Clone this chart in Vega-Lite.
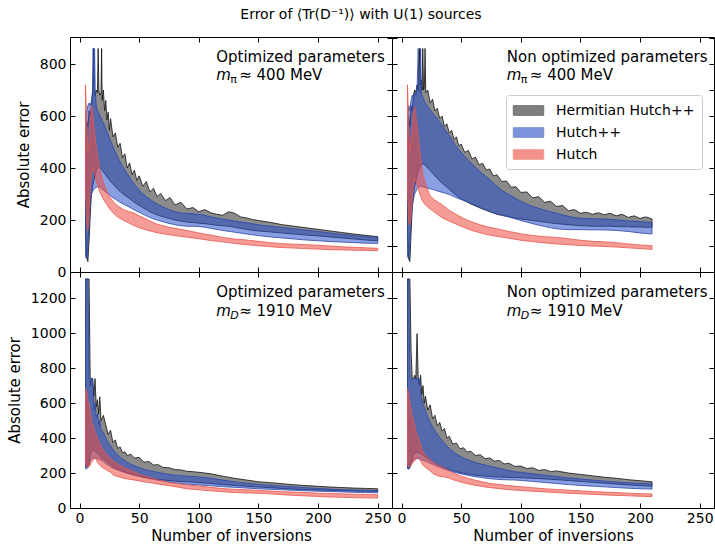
{
"$schema": "https://vega.github.io/schema/vega-lite/v6.json",
"background": "white",
"padding": {"left": 6, "top": 8, "right": 0, "bottom": 1},
"title": {"text": "Error of ⟨Tr(D⁻¹)⟩ with U(1) sources", "anchor": "middle", "fontSize": 14, "fontWeight": "normal", "font": "DejaVu Sans", "color": "black", "offset": 14},
"datasets": {
"TL_H": [{"x":5,"lo":150,"hi":450},{"x":6,"lo":60,"hi":580},{"x":7,"lo":40,"hi":560},{"x":8,"lo":120,"hi":620},{"x":9,"lo":220,"hi":600},{"x":10,"lo":300,"hi":640},{"x":11,"lo":330,"hi":690},{"x":11.6,"lo":345,"hi":860},{"x":12.2,"lo":355,"hi":700},{"x":13,"lo":370,"hi":680},{"x":14,"lo":390,"hi":700},{"x":15,"lo":400,"hi":690},{"x":15.6,"lo":402,"hi":860},{"x":16.2,"lo":405,"hi":700},{"x":17,"lo":400,"hi":680},{"x":18,"lo":395,"hi":690},{"x":18.5,"lo":393,"hi":860},{"x":19,"lo":390,"hi":660},{"x":20,"lo":385,"hi":700},{"x":21,"lo":378,"hi":620},{"x":22,"lo":372,"hi":660},{"x":23,"lo":366,"hi":585},{"x":24,"lo":360,"hi":615},{"x":25,"lo":354,"hi":545},{"x":26,"lo":348,"hi":590},{"x":28,"lo":338,"hi":520},{"x":30,"lo":328,"hi":535},{"x":32,"lo":318,"hi":480},{"x":34,"lo":310,"hi":495},{"x":36,"lo":302,"hi":440},{"x":38,"lo":295,"hi":455},{"x":40,"lo":288,"hi":400},{"x":42,"lo":282,"hi":420},{"x":44,"lo":275,"hi":375},{"x":46,"lo":268,"hi":392},{"x":48,"lo":262,"hi":352},{"x":50,"lo":256,"hi":370},{"x":53,"lo":248,"hi":330},{"x":56,"lo":240,"hi":348},{"x":59,"lo":232,"hi":308},{"x":62,"lo":226,"hi":322},{"x":65,"lo":220,"hi":290},{"x":68,"lo":215,"hi":302},{"x":72,"lo":210,"hi":275},{"x":76,"lo":205,"hi":286},{"x":80,"lo":200,"hi":258},{"x":85,"lo":196,"hi":268},{"x":90,"lo":192,"hi":242},{"x":95,"lo":190,"hi":248},{"x":100,"lo":188,"hi":232},{"x":105,"lo":186,"hi":240},{"x":110,"lo":183,"hi":228},{"x":115,"lo":180,"hi":222},{"x":120,"lo":178,"hi":218},{"x":125,"lo":176,"hi":232},{"x":130,"lo":172,"hi":226},{"x":135,"lo":168,"hi":212},{"x":140,"lo":164,"hi":208},{"x":145,"lo":160,"hi":202},{"x":150,"lo":158,"hi":198},{"x":160,"lo":154,"hi":191},{"x":170,"lo":150,"hi":182},{"x":180,"lo":146,"hi":176},{"x":190,"lo":142,"hi":170},{"x":200,"lo":139,"hi":164},{"x":210,"lo":135,"hi":158},{"x":220,"lo":131,"hi":152},{"x":230,"lo":127,"hi":146},{"x":240,"lo":123,"hi":141},{"x":250,"lo":120,"hi":136}],
"TL_P": [{"x":5,"lo":60,"hi":600},{"x":6,"lo":50,"hi":620},{"x":7,"lo":100,"hi":640},{"x":8,"lo":200,"hi":650},{"x":9,"lo":280,"hi":640},{"x":10,"lo":300,"hi":660},{"x":11,"lo":310,"hi":700},{"x":11.5,"lo":314,"hi":860},{"x":12,"lo":318,"hi":720},{"x":12.6,"lo":320,"hi":860},{"x":13.2,"lo":322,"hi":690},{"x":14,"lo":326,"hi":640},{"x":15,"lo":328,"hi":620},{"x":16,"lo":328,"hi":615},{"x":17,"lo":326,"hi":600},{"x":18,"lo":322,"hi":595},{"x":19,"lo":318,"hi":580},{"x":20,"lo":314,"hi":575},{"x":22,"lo":308,"hi":550},{"x":24,"lo":300,"hi":528},{"x":26,"lo":293,"hi":505},{"x":28,"lo":286,"hi":482},{"x":30,"lo":280,"hi":462},{"x":32,"lo":274,"hi":442},{"x":34,"lo":268,"hi":424},{"x":36,"lo":263,"hi":407},{"x":38,"lo":258,"hi":392},{"x":40,"lo":254,"hi":378},{"x":44,"lo":244,"hi":350},{"x":48,"lo":234,"hi":326},{"x":52,"lo":225,"hi":306},{"x":56,"lo":216,"hi":290},{"x":60,"lo":208,"hi":276},{"x":65,"lo":200,"hi":262},{"x":70,"lo":193,"hi":250},{"x":75,"lo":187,"hi":240},{"x":80,"lo":182,"hi":232},{"x":85,"lo":178,"hi":226},{"x":90,"lo":176,"hi":226},{"x":95,"lo":176,"hi":224},{"x":100,"lo":175,"hi":222},{"x":105,"lo":172,"hi":218},{"x":110,"lo":168,"hi":212},{"x":120,"lo":160,"hi":204},{"x":130,"lo":153,"hi":196},{"x":140,"lo":146,"hi":189},{"x":150,"lo":140,"hi":182},{"x":160,"lo":135,"hi":176},{"x":170,"lo":131,"hi":171},{"x":180,"lo":127,"hi":166},{"x":190,"lo":123,"hi":161},{"x":200,"lo":120,"hi":156},{"x":210,"lo":117,"hi":150},{"x":220,"lo":115,"hi":145},{"x":230,"lo":113,"hi":140},{"x":240,"lo":111,"hi":136},{"x":250,"lo":110,"hi":133}],
"TL_S": [{"x":5,"lo":300,"hi":720},{"x":5.5,"lo":250,"hi":650},{"x":6,"lo":200,"hi":560},{"x":7,"lo":160,"hi":470},{"x":8,"lo":240,"hi":500},{"x":9,"lo":320,"hi":580},{"x":10,"lo":380,"hi":640},{"x":11,"lo":400,"hi":610},{"x":12,"lo":390,"hi":560},{"x":13,"lo":370,"hi":520},{"x":14,"lo":350,"hi":480},{"x":15,"lo":335,"hi":450},{"x":16,"lo":320,"hi":420},{"x":17,"lo":308,"hi":395},{"x":18,"lo":298,"hi":375},{"x":20,"lo":280,"hi":345},{"x":22,"lo":265,"hi":318},{"x":25,"lo":245,"hi":292},{"x":28,"lo":228,"hi":272},{"x":31,"lo":215,"hi":258},{"x":34,"lo":206,"hi":248},{"x":38,"lo":196,"hi":238},{"x":42,"lo":187,"hi":232},{"x":46,"lo":178,"hi":226},{"x":50,"lo":170,"hi":216},{"x":55,"lo":163,"hi":206},{"x":60,"lo":157,"hi":194},{"x":65,"lo":151,"hi":184},{"x":70,"lo":147,"hi":178},{"x":75,"lo":143,"hi":172},{"x":80,"lo":140,"hi":168},{"x":90,"lo":134,"hi":160},{"x":100,"lo":128,"hi":150},{"x":110,"lo":121,"hi":142},{"x":120,"lo":116,"hi":133},{"x":130,"lo":110,"hi":127},{"x":140,"lo":105,"hi":123},{"x":150,"lo":101,"hi":118},{"x":160,"lo":97,"hi":113},{"x":170,"lo":94,"hi":109},{"x":180,"lo":92,"hi":107},{"x":190,"lo":90,"hi":105},{"x":200,"lo":88,"hi":103},{"x":210,"lo":86,"hi":100},{"x":220,"lo":85,"hi":97},{"x":230,"lo":84,"hi":95},{"x":240,"lo":83,"hi":93},{"x":250,"lo":82,"hi":91}],
"TR_H": [{"x":5,"lo":150,"hi":450},{"x":6,"lo":50,"hi":600},{"x":7,"lo":40,"hi":560},{"x":8,"lo":150,"hi":640},{"x":9,"lo":250,"hi":620},{"x":10,"lo":300,"hi":680},{"x":11,"lo":330,"hi":700},{"x":12,"lo":350,"hi":690},{"x":13,"lo":370,"hi":720},{"x":14,"lo":390,"hi":700},{"x":15,"lo":400,"hi":860},{"x":15.6,"lo":405,"hi":720},{"x":16.5,"lo":410,"hi":740},{"x":17.2,"lo":413,"hi":700},{"x":17.8,"lo":415,"hi":860},{"x":18.5,"lo":415,"hi":700},{"x":19.2,"lo":412,"hi":720},{"x":19.7,"lo":411,"hi":860},{"x":20.3,"lo":410,"hi":690},{"x":22,"lo":400,"hi":700},{"x":24,"lo":390,"hi":650},{"x":26,"lo":380,"hi":665},{"x":28,"lo":370,"hi":620},{"x":30,"lo":360,"hi":630},{"x":32,"lo":350,"hi":590},{"x":34,"lo":342,"hi":600},{"x":36,"lo":334,"hi":560},{"x":38,"lo":326,"hi":570},{"x":40,"lo":318,"hi":535},{"x":42,"lo":310,"hi":545},{"x":44,"lo":302,"hi":510},{"x":46,"lo":295,"hi":520},{"x":48,"lo":288,"hi":485},{"x":50,"lo":281,"hi":492},{"x":53,"lo":274,"hi":460},{"x":56,"lo":267,"hi":468},{"x":59,"lo":260,"hi":435},{"x":62,"lo":254,"hi":442},{"x":65,"lo":248,"hi":412},{"x":68,"lo":242,"hi":418},{"x":71,"lo":237,"hi":392},{"x":74,"lo":232,"hi":396},{"x":77,"lo":227,"hi":370},{"x":80,"lo":222,"hi":374},{"x":84,"lo":218,"hi":348},{"x":88,"lo":214,"hi":350},{"x":92,"lo":210,"hi":326},{"x":96,"lo":207,"hi":328},{"x":100,"lo":204,"hi":306},{"x":105,"lo":201,"hi":308},{"x":110,"lo":198,"hi":285},{"x":115,"lo":195,"hi":290},{"x":120,"lo":192,"hi":268},{"x":125,"lo":189,"hi":272},{"x":130,"lo":186,"hi":252},{"x":135,"lo":184,"hi":256},{"x":140,"lo":182,"hi":236},{"x":145,"lo":180,"hi":240},{"x":150,"lo":178,"hi":226},{"x":155,"lo":177,"hi":230},{"x":160,"lo":176,"hi":222},{"x":165,"lo":176,"hi":228},{"x":170,"lo":176,"hi":220},{"x":175,"lo":176,"hi":226},{"x":180,"lo":175,"hi":216},{"x":185,"lo":174,"hi":222},{"x":190,"lo":174,"hi":210},{"x":195,"lo":173,"hi":216},{"x":200,"lo":173,"hi":206},{"x":205,"lo":172,"hi":212},{"x":210,"lo":172,"hi":204}],
"TR_P": [{"x":5,"lo":60,"hi":560},{"x":6,"lo":50,"hi":640},{"x":7,"lo":120,"hi":620},{"x":8,"lo":200,"hi":660},{"x":9,"lo":250,"hi":680},{"x":10,"lo":280,"hi":670},{"x":11,"lo":300,"hi":690},{"x":12,"lo":310,"hi":680},{"x":13,"lo":320,"hi":700},{"x":14,"lo":325,"hi":860},{"x":14.6,"lo":327,"hi":700},{"x":15.4,"lo":330,"hi":690},{"x":16,"lo":330,"hi":860},{"x":16.6,"lo":330,"hi":690},{"x":17.2,"lo":330,"hi":680},{"x":18,"lo":328,"hi":670},{"x":20,"lo":325,"hi":650},{"x":22,"lo":322,"hi":635},{"x":24,"lo":320,"hi":625},{"x":26,"lo":318,"hi":612},{"x":28,"lo":315,"hi":600},{"x":30,"lo":312,"hi":590},{"x":33,"lo":308,"hi":570},{"x":36,"lo":304,"hi":550},{"x":40,"lo":298,"hi":525},{"x":44,"lo":290,"hi":495},{"x":48,"lo":282,"hi":470},{"x":52,"lo":275,"hi":450},{"x":56,"lo":268,"hi":430},{"x":60,"lo":260,"hi":412},{"x":65,"lo":250,"hi":390},{"x":70,"lo":240,"hi":370},{"x":75,"lo":232,"hi":350},{"x":80,"lo":224,"hi":330},{"x":85,"lo":218,"hi":312},{"x":90,"lo":212,"hi":298},{"x":95,"lo":205,"hi":285},{"x":100,"lo":198,"hi":272},{"x":105,"lo":192,"hi":262},{"x":110,"lo":186,"hi":252},{"x":115,"lo":180,"hi":245},{"x":120,"lo":175,"hi":238},{"x":125,"lo":170,"hi":232},{"x":130,"lo":166,"hi":226},{"x":135,"lo":164,"hi":220},{"x":140,"lo":163,"hi":214},{"x":145,"lo":163,"hi":210},{"x":150,"lo":163,"hi":207},{"x":160,"lo":162,"hi":205},{"x":170,"lo":162,"hi":204},{"x":180,"lo":160,"hi":201},{"x":190,"lo":156,"hi":197},{"x":200,"lo":150,"hi":194},{"x":210,"lo":146,"hi":190}],
"TR_S": [{"x":5,"lo":300,"hi":720},{"x":5.5,"lo":250,"hi":640},{"x":6,"lo":200,"hi":540},{"x":7,"lo":180,"hi":470},{"x":8,"lo":220,"hi":500},{"x":9,"lo":280,"hi":560},{"x":10,"lo":330,"hi":610},{"x":11,"lo":360,"hi":635},{"x":12,"lo":350,"hi":600},{"x":13,"lo":335,"hi":560},{"x":14,"lo":320,"hi":520},{"x":15,"lo":305,"hi":480},{"x":16,"lo":292,"hi":440},{"x":17,"lo":280,"hi":405},{"x":18,"lo":270,"hi":375},{"x":20,"lo":258,"hi":340},{"x":22,"lo":250,"hi":315},{"x":24,"lo":242,"hi":293},{"x":27,"lo":232,"hi":280},{"x":30,"lo":222,"hi":270},{"x":33,"lo":212,"hi":262},{"x":36,"lo":204,"hi":252},{"x":40,"lo":196,"hi":238},{"x":44,"lo":188,"hi":226},{"x":48,"lo":180,"hi":216},{"x":52,"lo":172,"hi":206},{"x":56,"lo":165,"hi":198},{"x":60,"lo":158,"hi":191},{"x":65,"lo":152,"hi":183},{"x":70,"lo":146,"hi":176},{"x":75,"lo":141,"hi":171},{"x":80,"lo":137,"hi":166},{"x":90,"lo":130,"hi":156},{"x":100,"lo":122,"hi":147},{"x":110,"lo":117,"hi":140},{"x":120,"lo":112,"hi":136},{"x":130,"lo":108,"hi":133},{"x":140,"lo":105,"hi":128},{"x":150,"lo":102,"hi":122},{"x":160,"lo":100,"hi":118},{"x":170,"lo":98,"hi":116},{"x":180,"lo":96,"hi":113},{"x":190,"lo":93,"hi":108},{"x":200,"lo":90,"hi":104},{"x":210,"lo":87,"hi":101}],
"BL_H": [{"x":5,"lo":230,"hi":1310},{"x":6,"lo":240,"hi":1310},{"x":7,"lo":240,"hi":1310},{"x":8,"lo":250,"hi":1310},{"x":9,"lo":300,"hi":700},{"x":10,"lo":320,"hi":740},{"x":11,"lo":330,"hi":740},{"x":12,"lo":330,"hi":640},{"x":13,"lo":325,"hi":740},{"x":14,"lo":318,"hi":580},{"x":15,"lo":312,"hi":620},{"x":16,"lo":305,"hi":540},{"x":17,"lo":298,"hi":636},{"x":18,"lo":290,"hi":500},{"x":20,"lo":280,"hi":530},{"x":22,"lo":270,"hi":476},{"x":24,"lo":258,"hi":420},{"x":26,"lo":248,"hi":445},{"x":28,"lo":238,"hi":375},{"x":30,"lo":230,"hi":390},{"x":32,"lo":222,"hi":340},{"x":34,"lo":216,"hi":350},{"x":36,"lo":210,"hi":315},{"x":38,"lo":205,"hi":322},{"x":40,"lo":200,"hi":300},{"x":43,"lo":194,"hi":308},{"x":46,"lo":188,"hi":285},{"x":50,"lo":182,"hi":290},{"x":54,"lo":176,"hi":262},{"x":58,"lo":171,"hi":266},{"x":62,"lo":167,"hi":246},{"x":66,"lo":163,"hi":248},{"x":70,"lo":160,"hi":232},{"x":75,"lo":157,"hi":230},{"x":80,"lo":154,"hi":220},{"x":85,"lo":152,"hi":218},{"x":90,"lo":150,"hi":210},{"x":95,"lo":148,"hi":208},{"x":100,"lo":145,"hi":204},{"x":110,"lo":140,"hi":196},{"x":120,"lo":134,"hi":182},{"x":130,"lo":129,"hi":170},{"x":140,"lo":124,"hi":160},{"x":150,"lo":120,"hi":150},{"x":160,"lo":116,"hi":145},{"x":170,"lo":112,"hi":139},{"x":180,"lo":108,"hi":133},{"x":190,"lo":105,"hi":128},{"x":200,"lo":103,"hi":124},{"x":210,"lo":101,"hi":120},{"x":220,"lo":99,"hi":117},{"x":230,"lo":97,"hi":114},{"x":240,"lo":96,"hi":112},{"x":250,"lo":95,"hi":110}],
"BL_P": [{"x":5,"lo":225,"hi":1310},{"x":6,"lo":225,"hi":1310},{"x":7,"lo":230,"hi":1310},{"x":8,"lo":260,"hi":740},{"x":9,"lo":270,"hi":740},{"x":10,"lo":280,"hi":740},{"x":11,"lo":285,"hi":740},{"x":12,"lo":285,"hi":560},{"x":13,"lo":285,"hi":600},{"x":14,"lo":285,"hi":520},{"x":15,"lo":283,"hi":540},{"x":16,"lo":280,"hi":480},{"x":17,"lo":278,"hi":500},{"x":18,"lo":275,"hi":450},{"x":20,"lo":265,"hi":430},{"x":22,"lo":255,"hi":400},{"x":24,"lo":245,"hi":375},{"x":26,"lo":236,"hi":355},{"x":28,"lo":228,"hi":335},{"x":30,"lo":222,"hi":318},{"x":33,"lo":215,"hi":298},{"x":36,"lo":208,"hi":280},{"x":40,"lo":200,"hi":262},{"x":44,"lo":192,"hi":248},{"x":48,"lo":185,"hi":236},{"x":52,"lo":178,"hi":226},{"x":56,"lo":172,"hi":218},{"x":60,"lo":166,"hi":212},{"x":65,"lo":160,"hi":205},{"x":70,"lo":154,"hi":198},{"x":75,"lo":149,"hi":192},{"x":80,"lo":144,"hi":188},{"x":90,"lo":137,"hi":182},{"x":100,"lo":132,"hi":178},{"x":110,"lo":127,"hi":170},{"x":120,"lo":122,"hi":160},{"x":130,"lo":118,"hi":150},{"x":140,"lo":114,"hi":142},{"x":150,"lo":110,"hi":135},{"x":160,"lo":107,"hi":130},{"x":170,"lo":104,"hi":125},{"x":180,"lo":101,"hi":120},{"x":190,"lo":98,"hi":116},{"x":200,"lo":96,"hi":112},{"x":210,"lo":94,"hi":108},{"x":220,"lo":92,"hi":105},{"x":230,"lo":90,"hi":103},{"x":240,"lo":88,"hi":101},{"x":250,"lo":87,"hi":100}],
"BL_S": [{"x":5,"lo":250,"hi":683},{"x":6,"lo":240,"hi":650},{"x":7,"lo":232,"hi":610},{"x":8,"lo":236,"hi":590},{"x":9,"lo":245,"hi":550},{"x":10,"lo":262,"hi":500},{"x":11,"lo":270,"hi":480},{"x":12,"lo":280,"hi":455},{"x":13,"lo":292,"hi":436},{"x":14,"lo":275,"hi":420},{"x":15,"lo":262,"hi":400},{"x":16,"lo":252,"hi":385},{"x":17,"lo":245,"hi":370},{"x":18,"lo":238,"hi":350},{"x":20,"lo":228,"hi":330},{"x":22,"lo":220,"hi":312},{"x":24,"lo":212,"hi":296},{"x":26,"lo":205,"hi":282},{"x":28,"lo":190,"hi":270},{"x":30,"lo":184,"hi":260},{"x":33,"lo":178,"hi":248},{"x":36,"lo":172,"hi":235},{"x":40,"lo":166,"hi":222},{"x":44,"lo":162,"hi":212},{"x":48,"lo":158,"hi":200},{"x":52,"lo":152,"hi":188},{"x":56,"lo":148,"hi":180},{"x":60,"lo":144,"hi":172},{"x":65,"lo":138,"hi":162},{"x":70,"lo":132,"hi":154},{"x":75,"lo":128,"hi":147},{"x":80,"lo":122,"hi":141},{"x":90,"lo":110,"hi":132},{"x":100,"lo":104,"hi":126},{"x":110,"lo":98,"hi":118},{"x":120,"lo":93,"hi":111},{"x":130,"lo":89,"hi":107},{"x":140,"lo":86,"hi":104},{"x":150,"lo":84,"hi":101},{"x":160,"lo":81,"hi":97},{"x":170,"lo":76,"hi":93},{"x":180,"lo":72,"hi":91},{"x":190,"lo":69,"hi":88},{"x":200,"lo":66,"hi":85},{"x":210,"lo":63,"hi":83},{"x":220,"lo":61,"hi":81},{"x":230,"lo":59,"hi":79},{"x":240,"lo":58,"hi":77},{"x":250,"lo":57,"hi":76}],
"BR_H": [{"x":5,"lo":230,"hi":1310},{"x":6,"lo":225,"hi":1310},{"x":7,"lo":235,"hi":1310},{"x":8,"lo":260,"hi":900},{"x":9,"lo":280,"hi":740},{"x":10,"lo":300,"hi":740},{"x":11,"lo":310,"hi":760},{"x":12,"lo":315,"hi":740},{"x":13,"lo":318,"hi":997},{"x":14,"lo":318,"hi":740},{"x":15,"lo":315,"hi":700},{"x":16,"lo":312,"hi":760},{"x":17,"lo":308,"hi":650},{"x":18,"lo":303,"hi":700},{"x":19,"lo":298,"hi":600},{"x":20,"lo":293,"hi":640},{"x":22,"lo":283,"hi":560},{"x":24,"lo":273,"hi":590},{"x":26,"lo":263,"hi":510},{"x":28,"lo":255,"hi":530},{"x":30,"lo":248,"hi":470},{"x":32,"lo":242,"hi":490},{"x":34,"lo":236,"hi":440},{"x":36,"lo":230,"hi":455},{"x":38,"lo":225,"hi":400},{"x":40,"lo":220,"hi":410},{"x":43,"lo":214,"hi":365},{"x":46,"lo":208,"hi":372},{"x":49,"lo":203,"hi":338},{"x":52,"lo":199,"hi":345},{"x":55,"lo":195,"hi":320},{"x":58,"lo":191,"hi":325},{"x":62,"lo":188,"hi":300},{"x":66,"lo":185,"hi":305},{"x":70,"lo":182,"hi":282},{"x":74,"lo":180,"hi":286},{"x":78,"lo":178,"hi":268},{"x":82,"lo":177,"hi":272},{"x":86,"lo":176,"hi":252},{"x":90,"lo":175,"hi":256},{"x":95,"lo":174,"hi":238},{"x":100,"lo":173,"hi":240},{"x":105,"lo":171,"hi":226},{"x":110,"lo":170,"hi":230},{"x":115,"lo":168,"hi":215},{"x":120,"lo":166,"hi":220},{"x":125,"lo":164,"hi":208},{"x":130,"lo":162,"hi":212},{"x":140,"lo":157,"hi":200},{"x":150,"lo":152,"hi":192},{"x":160,"lo":147,"hi":184},{"x":170,"lo":142,"hi":176},{"x":180,"lo":137,"hi":170},{"x":190,"lo":132,"hi":162},{"x":200,"lo":128,"hi":156},{"x":210,"lo":124,"hi":150}],
"BR_P": [{"x":5,"lo":225,"hi":1310},{"x":6,"lo":222,"hi":1310},{"x":7,"lo":230,"hi":740},{"x":8,"lo":250,"hi":740},{"x":9,"lo":265,"hi":740},{"x":10,"lo":275,"hi":740},{"x":11,"lo":280,"hi":740},{"x":12,"lo":282,"hi":740},{"x":13,"lo":283,"hi":740},{"x":14,"lo":282,"hi":740},{"x":15,"lo":280,"hi":740},{"x":16,"lo":278,"hi":660},{"x":17,"lo":276,"hi":620},{"x":18,"lo":273,"hi":590},{"x":20,"lo":268,"hi":560},{"x":22,"lo":262,"hi":520},{"x":24,"lo":256,"hi":490},{"x":26,"lo":250,"hi":465},{"x":28,"lo":244,"hi":442},{"x":30,"lo":238,"hi":422},{"x":33,"lo":230,"hi":395},{"x":36,"lo":222,"hi":370},{"x":40,"lo":213,"hi":342},{"x":44,"lo":205,"hi":318},{"x":48,"lo":198,"hi":300},{"x":52,"lo":192,"hi":286},{"x":56,"lo":186,"hi":274},{"x":60,"lo":181,"hi":264},{"x":65,"lo":176,"hi":254},{"x":70,"lo":171,"hi":246},{"x":75,"lo":167,"hi":238},{"x":80,"lo":164,"hi":230},{"x":85,"lo":162,"hi":222},{"x":90,"lo":161,"hi":214},{"x":95,"lo":160,"hi":208},{"x":100,"lo":158,"hi":204},{"x":110,"lo":152,"hi":196},{"x":120,"lo":146,"hi":188},{"x":130,"lo":140,"hi":180},{"x":140,"lo":134,"hi":172},{"x":150,"lo":129,"hi":166},{"x":160,"lo":125,"hi":160},{"x":170,"lo":121,"hi":154},{"x":180,"lo":117,"hi":149},{"x":190,"lo":113,"hi":144},{"x":200,"lo":110,"hi":141},{"x":210,"lo":108,"hi":138}],
"BR_S": [{"x":5,"lo":242,"hi":683},{"x":6,"lo":238,"hi":640},{"x":7,"lo":236,"hi":600},{"x":8,"lo":245,"hi":560},{"x":9,"lo":255,"hi":530},{"x":10,"lo":262,"hi":500},{"x":11,"lo":270,"hi":472},{"x":12,"lo":280,"hi":440},{"x":13,"lo":290,"hi":420},{"x":14,"lo":293,"hi":400},{"x":15,"lo":280,"hi":380},{"x":16,"lo":268,"hi":360},{"x":17,"lo":255,"hi":340},{"x":18,"lo":245,"hi":320},{"x":20,"lo":232,"hi":300},{"x":22,"lo":222,"hi":288},{"x":24,"lo":212,"hi":276},{"x":27,"lo":195,"hi":260},{"x":30,"lo":185,"hi":248},{"x":33,"lo":180,"hi":236},{"x":36,"lo":178,"hi":228},{"x":40,"lo":170,"hi":212},{"x":44,"lo":160,"hi":198},{"x":48,"lo":152,"hi":188},{"x":52,"lo":145,"hi":178},{"x":56,"lo":138,"hi":170},{"x":60,"lo":132,"hi":162},{"x":65,"lo":126,"hi":154},{"x":70,"lo":120,"hi":146},{"x":75,"lo":116,"hi":140},{"x":80,"lo":112,"hi":136},{"x":90,"lo":105,"hi":128},{"x":100,"lo":100,"hi":122},{"x":110,"lo":96,"hi":116},{"x":120,"lo":92,"hi":110},{"x":130,"lo":88,"hi":106},{"x":140,"lo":84,"hi":102},{"x":150,"lo":81,"hi":98},{"x":160,"lo":78,"hi":94},{"x":170,"lo":75,"hi":91},{"x":180,"lo":72,"hi":88},{"x":190,"lo":70,"hi":85},{"x":200,"lo":67,"hi":82},{"x":210,"lo":65,"hi":80}]
},
"columns": 2,
"spacing": 0,
"bounds": "flush",
"concat": [
{"width": 322, "height": 235,
 "layer": [
  {"data": {"name": "TL_H"}, "mark": {"type": "area", "fillOpacity": 0.55, "strokeWidth": 0.8, "clip": true},
   "encoding": {"x": {"field": "x", "type": "quantitative", "scale": {"domain": [-8, 262], "nice": false, "zero": false}, "axis": {"orient": "bottom", "values": [0,50,100,150,200,250], "labels": false, "title": null}},
    "y": {"field": "lo", "type": "quantitative", "scale": {"domain": [0, 904], "nice": false, "zero": false}, "axis": {"orient": "left", "values": [0,200,400,600,800], "format": "d", "title": "Absolute error"}},
    "y2": {"field": "hi"},
    "color": {"datum": "Hermitian Hutch++", "type": "nominal", "scale": {"domain": ["Hermitian Hutch++", "Hutch++", "Hutch"], "range": ["#2b2b2b", "#2a50c8", "#ec4a3f"]}, "legend": {"title": null}},
    "stroke": {"datum": "Hermitian Hutch++", "type": "nominal", "scale": {"domain": ["Hermitian Hutch++", "Hutch++", "Hutch"], "range": ["#111111", "#2a48a8", "#e8574d"]}, "legend": {"title": null}}}},
  {"data": {"name": "TL_P"}, "mark": {"type": "area", "fillOpacity": 0.55, "strokeWidth": 0.8, "clip": true},
   "encoding": {"x": {"field": "x", "type": "quantitative", "axis": null}, "y": {"field": "lo", "type": "quantitative", "axis": null}, "y2": {"field": "hi"},
    "color": {"datum": "Hutch++", "type": "nominal"}, "stroke": {"datum": "Hutch++", "type": "nominal"}}},
  {"data": {"name": "TL_S"}, "mark": {"type": "area", "fillOpacity": 0.55, "strokeWidth": 0.8, "clip": true},
   "encoding": {"x": {"field": "x", "type": "quantitative", "axis": null}, "y": {"field": "lo", "type": "quantitative", "axis": null}, "y2": {"field": "hi"},
    "color": {"datum": "Hutch", "type": "nominal"}, "stroke": {"datum": "Hutch", "type": "nominal"}}},
  {"data": {"values": [{}]}, "mark": {"type": "text", "text": "Optimized parameters", "align": "left", "baseline": "alphabetic", "fontSize": 15},
   "encoding": {"x": {"datum": 114.6, "type": "quantitative", "axis": {"orient": "top", "values": [0,50,100,150,200,250], "labels": false, "title": null}},
    "y": {"datum": 806, "type": "quantitative", "axis": {"orient": "right", "values": [0,100,200,300,400,500,600,700,800,900], "labels": false, "title": null}}}},
  {"data": {"values": [{}]}, "mark": {"type": "text", "text": "m", "align": "left", "baseline": "alphabetic", "fontSize": 15, "fontStyle": "italic"},
   "encoding": {"x": {"datum": 114.6, "type": "quantitative", "axis": null}, "y": {"datum": 738, "type": "quantitative", "axis": null}}},
  {"data": {"values": [{}]}, "mark": {"type": "text", "text": "π", "align": "left", "baseline": "alphabetic", "fontSize": 11, "dx": 14, "dy": 3},
   "encoding": {"x": {"datum": 114.6, "type": "quantitative", "axis": null}, "y": {"datum": 738, "type": "quantitative", "axis": null}}},
  {"data": {"values": [{}]}, "mark": {"type": "text", "text": "≈ 400 MeV", "align": "left", "baseline": "alphabetic", "fontSize": 15, "dx": 23},
   "encoding": {"x": {"datum": 114.6, "type": "quantitative", "axis": null}, "y": {"datum": 738, "type": "quantitative", "axis": null}}}
 ],
 "resolve": {"axis": {"x": "independent", "y": "independent"}}},
{"width": 322, "height": 235,
 "layer": [
  {"data": {"name": "TR_H"}, "mark": {"type": "area", "fillOpacity": 0.55, "strokeWidth": 0.8, "clip": true},
   "encoding": {"x": {"field": "x", "type": "quantitative", "scale": {"domain": [-8, 262], "nice": false, "zero": false}, "axis": {"orient": "bottom", "values": [0,50,100,150,200,250], "labels": false, "title": null}},
    "y": {"field": "lo", "type": "quantitative", "scale": {"domain": [0, 904], "nice": false, "zero": false}, "axis": {"orient": "left", "values": [0,100,200,300,400,500,600,700,800,900], "labels": false, "title": null}},
    "y2": {"field": "hi"},
    "color": {"datum": "Hermitian Hutch++", "type": "nominal"}, "stroke": {"datum": "Hermitian Hutch++", "type": "nominal"}}},
  {"data": {"name": "TR_P"}, "mark": {"type": "area", "fillOpacity": 0.55, "strokeWidth": 0.8, "clip": true},
   "encoding": {"x": {"field": "x", "type": "quantitative", "axis": null}, "y": {"field": "lo", "type": "quantitative", "axis": null}, "y2": {"field": "hi"},
    "color": {"datum": "Hutch++", "type": "nominal"}, "stroke": {"datum": "Hutch++", "type": "nominal"}}},
  {"data": {"name": "TR_S"}, "mark": {"type": "area", "fillOpacity": 0.55, "strokeWidth": 0.8, "clip": true},
   "encoding": {"x": {"field": "x", "type": "quantitative", "axis": null}, "y": {"field": "lo", "type": "quantitative", "axis": null}, "y2": {"field": "hi"},
    "color": {"datum": "Hutch", "type": "nominal"}, "stroke": {"datum": "Hutch", "type": "nominal"}}},
  {"data": {"values": [{}]}, "mark": {"type": "text", "text": "Non optimized parameters", "align": "left", "baseline": "alphabetic", "fontSize": 15},
   "encoding": {"x": {"datum": 88.3, "type": "quantitative", "axis": {"orient": "top", "values": [0,50,100,150,200,250], "labels": false, "title": null}},
    "y": {"datum": 806, "type": "quantitative", "axis": {"orient": "right", "values": [0,100,200,300,400,500,600,700,800,900], "labels": false, "title": null}}}},
  {"data": {"values": [{}]}, "mark": {"type": "text", "text": "m", "align": "left", "baseline": "alphabetic", "fontSize": 15, "fontStyle": "italic"},
   "encoding": {"x": {"datum": 88.3, "type": "quantitative", "axis": null}, "y": {"datum": 738, "type": "quantitative", "axis": null}}},
  {"data": {"values": [{}]}, "mark": {"type": "text", "text": "π", "align": "left", "baseline": "alphabetic", "fontSize": 11, "dx": 14, "dy": 3},
   "encoding": {"x": {"datum": 88.3, "type": "quantitative", "axis": null}, "y": {"datum": 738, "type": "quantitative", "axis": null}}},
  {"data": {"values": [{}]}, "mark": {"type": "text", "text": "≈ 400 MeV", "align": "left", "baseline": "alphabetic", "fontSize": 15, "dx": 23},
   "encoding": {"x": {"datum": 88.3, "type": "quantitative", "axis": null}, "y": {"datum": 738, "type": "quantitative", "axis": null}}}
 ],
 "resolve": {"axis": {"x": "independent", "y": "independent"}}},
{"width": 322, "height": 236,
 "layer": [
  {"data": {"name": "BL_H"}, "mark": {"type": "area", "fillOpacity": 0.55, "strokeWidth": 0.8, "clip": true},
   "encoding": {"x": {"field": "x", "type": "quantitative", "scale": {"domain": [-8, 262], "nice": false, "zero": false}, "axis": {"orient": "bottom", "values": [0,50,100,150,200,250], "title": "Number of inversions"}},
    "y": {"field": "lo", "type": "quantitative", "scale": {"domain": [0, 1350], "nice": false, "zero": false}, "axis": {"orient": "left", "values": [0,200,400,600,800,1000,1200], "format": "d", "title": "Absolute error"}},
    "y2": {"field": "hi"},
    "color": {"datum": "Hermitian Hutch++", "type": "nominal"}, "stroke": {"datum": "Hermitian Hutch++", "type": "nominal"}}},
  {"data": {"name": "BL_P"}, "mark": {"type": "area", "fillOpacity": 0.55, "strokeWidth": 0.8, "clip": true},
   "encoding": {"x": {"field": "x", "type": "quantitative", "axis": null}, "y": {"field": "lo", "type": "quantitative", "axis": null}, "y2": {"field": "hi"},
    "color": {"datum": "Hutch++", "type": "nominal"}, "stroke": {"datum": "Hutch++", "type": "nominal"}}},
  {"data": {"name": "BL_S"}, "mark": {"type": "area", "fillOpacity": 0.55, "strokeWidth": 0.8, "clip": true},
   "encoding": {"x": {"field": "x", "type": "quantitative", "axis": null}, "y": {"field": "lo", "type": "quantitative", "axis": null}, "y2": {"field": "hi"},
    "color": {"datum": "Hutch", "type": "nominal"}, "stroke": {"datum": "Hutch", "type": "nominal"}}},
  {"data": {"values": [{}]}, "mark": {"type": "text", "text": "Optimized parameters", "align": "left", "baseline": "alphabetic", "fontSize": 15},
   "encoding": {"x": {"datum": 114.6, "type": "quantitative", "axis": {"orient": "top", "values": [0,50,100,150,200,250], "labels": false, "title": null}},
    "y": {"datum": 1205, "type": "quantitative", "axis": {"orient": "right", "values": [0,200,400,600,800,1000,1200], "labels": false, "title": null}}}},
  {"data": {"values": [{}]}, "mark": {"type": "text", "text": "m", "align": "left", "baseline": "alphabetic", "fontSize": 15, "fontStyle": "italic"},
   "encoding": {"x": {"datum": 114.6, "type": "quantitative", "axis": null}, "y": {"datum": 1100, "type": "quantitative", "axis": null}}},
  {"data": {"values": [{}]}, "mark": {"type": "text", "text": "D", "align": "left", "baseline": "alphabetic", "fontSize": 11, "fontStyle": "italic", "dx": 14, "dy": 3},
   "encoding": {"x": {"datum": 114.6, "type": "quantitative", "axis": null}, "y": {"datum": 1100, "type": "quantitative", "axis": null}}},
  {"data": {"values": [{}]}, "mark": {"type": "text", "text": "≈ 1910 MeV", "align": "left", "baseline": "alphabetic", "fontSize": 15, "dx": 23},
   "encoding": {"x": {"datum": 114.6, "type": "quantitative", "axis": null}, "y": {"datum": 1100, "type": "quantitative", "axis": null}}}
 ],
 "resolve": {"axis": {"x": "independent", "y": "independent"}}},
{"width": 322, "height": 236,
 "layer": [
  {"data": {"name": "BR_H"}, "mark": {"type": "area", "fillOpacity": 0.55, "strokeWidth": 0.8, "clip": true},
   "encoding": {"x": {"field": "x", "type": "quantitative", "scale": {"domain": [-8, 262], "nice": false, "zero": false}, "axis": {"orient": "bottom", "values": [0,50,100,150,200,250], "title": "Number of inversions"}},
    "y": {"field": "lo", "type": "quantitative", "scale": {"domain": [0, 1350], "nice": false, "zero": false}, "axis": {"orient": "left", "values": [0,200,400,600,800,1000,1200], "labels": false, "title": null}},
    "y2": {"field": "hi"},
    "color": {"datum": "Hermitian Hutch++", "type": "nominal"}, "stroke": {"datum": "Hermitian Hutch++", "type": "nominal"}}},
  {"data": {"name": "BR_P"}, "mark": {"type": "area", "fillOpacity": 0.55, "strokeWidth": 0.8, "clip": true},
   "encoding": {"x": {"field": "x", "type": "quantitative", "axis": null}, "y": {"field": "lo", "type": "quantitative", "axis": null}, "y2": {"field": "hi"},
    "color": {"datum": "Hutch++", "type": "nominal"}, "stroke": {"datum": "Hutch++", "type": "nominal"}}},
  {"data": {"name": "BR_S"}, "mark": {"type": "area", "fillOpacity": 0.55, "strokeWidth": 0.8, "clip": true},
   "encoding": {"x": {"field": "x", "type": "quantitative", "axis": null}, "y": {"field": "lo", "type": "quantitative", "axis": null}, "y2": {"field": "hi"},
    "color": {"datum": "Hutch", "type": "nominal"}, "stroke": {"datum": "Hutch", "type": "nominal"}}},
  {"data": {"values": [{}]}, "mark": {"type": "text", "text": "Non optimized parameters", "align": "left", "baseline": "alphabetic", "fontSize": 15},
   "encoding": {"x": {"datum": 88.3, "type": "quantitative", "axis": {"orient": "top", "values": [0,50,100,150,200,250], "labels": false, "title": null}},
    "y": {"datum": 1205, "type": "quantitative", "axis": {"orient": "right", "values": [0,200,400,600,800,1000,1200], "labels": false, "title": null}}}},
  {"data": {"values": [{}]}, "mark": {"type": "text", "text": "m", "align": "left", "baseline": "alphabetic", "fontSize": 15, "fontStyle": "italic"},
   "encoding": {"x": {"datum": 88.3, "type": "quantitative", "axis": null}, "y": {"datum": 1100, "type": "quantitative", "axis": null}}},
  {"data": {"values": [{}]}, "mark": {"type": "text", "text": "D", "align": "left", "baseline": "alphabetic", "fontSize": 11, "fontStyle": "italic", "dx": 14, "dy": 3},
   "encoding": {"x": {"datum": 88.3, "type": "quantitative", "axis": null}, "y": {"datum": 1100, "type": "quantitative", "axis": null}}},
  {"data": {"values": [{}]}, "mark": {"type": "text", "text": "≈ 1910 MeV", "align": "left", "baseline": "alphabetic", "fontSize": 15, "dx": 23},
   "encoding": {"x": {"datum": 88.3, "type": "quantitative", "axis": null}, "y": {"datum": 1100, "type": "quantitative", "axis": null}}}
 ],
 "resolve": {"axis": {"x": "independent", "y": "independent"}}}
],
"config": {
 "font": "DejaVu Sans",
 "view": {"stroke": "black", "strokeWidth": 1},
 "text": {"font": "DejaVu Sans", "color": "black"},
 "axis": {"domain": false, "grid": false, "tickColor": "black", "tickSize": -5, "tickWidth": 1, "labelPadding": 9, "labelColor": "black", "labelFontSize": 14, "labelFont": "DejaVu Sans", "labelFlush": false, "labelOverlap": false, "titleFontSize": 15, "titleFontWeight": "normal", "titleColor": "black", "titleFont": "DejaVu Sans"},
 "axisY": {"titlePadding": 8},
 "axisX": {"titlePadding": 3, "labelPadding": 8},
 "legend": {"orient": "none", "legendX": 436, "legendY": 58, "labelFontSize": 14, "labelFont": "DejaVu Sans", "labelColor": "black", "symbolType": "M-1.9,-0.6H1.9V0.6H-1.9Z", "symbolSize": 256, "symbolOffset": 7, "symbolStrokeWidth": 1, "symbolOpacity": 0.6, "rowPadding": 6, "labelOffset": 19, "padding": 7, "strokeColor": "#cccccc", "cornerRadius": 3, "fillColor": "white"}
}
}
